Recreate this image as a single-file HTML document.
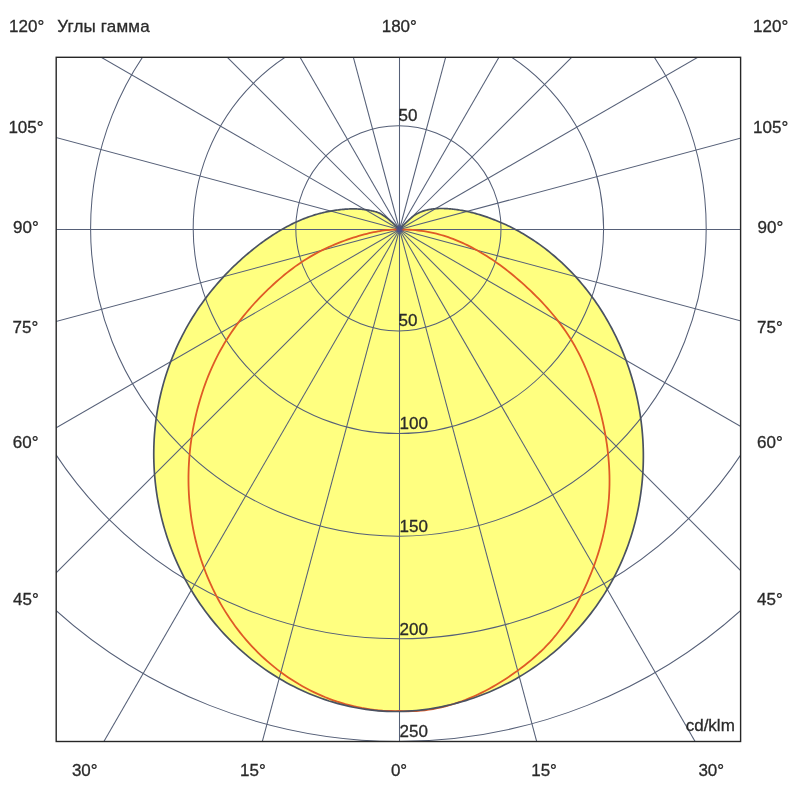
<!DOCTYPE html>
<html><head><meta charset="utf-8"><style>
html,body{margin:0;padding:0;background:#fff;}
svg{display:block;}
.t{position:absolute;left:0;top:0;will-change:transform;}
text{font-family:"Liberation Sans",sans-serif;font-size:17px;fill:#2a2a2a;stroke:#2a2a2a;stroke-width:0.3px;}
</style></head><body>
<svg width="800" height="800" viewBox="0 0 800 800">
<defs><clipPath id="c"><rect x="56.2" y="57.3" width="684.40" height="684.20"/></clipPath></defs>
<g clip-path="url(#c)">
<path d="M399.50,229.50 L399.50,229.50 L399.50,229.50 L399.40,229.40 L398.78,228.75 L397.86,227.80 L396.69,226.64 L395.32,225.32 L393.82,223.92 L392.22,222.47 L390.59,221.04 L388.96,219.67 L387.40,218.41 L385.94,217.29 L384.59,216.31 L383.35,215.46 L382.21,214.73 L381.16,214.11 L380.19,213.58 L379.29,213.13 L378.44,212.75 L377.65,212.43 L376.89,212.15 L376.17,211.92 L375.46,211.71 L374.75,211.52 L374.03,211.34 L373.30,211.16 L372.56,210.98 L371.80,210.81 L371.02,210.65 L370.23,210.49 L369.42,210.34 L368.59,210.19 L367.76,210.05 L366.90,209.91 L366.03,209.78 L365.14,209.66 L364.24,209.55 L363.32,209.45 L362.39,209.35 L361.44,209.26 L360.48,209.19 L359.50,209.12 L358.50,209.06 L357.49,209.01 L356.47,208.97 L355.42,208.95 L354.36,208.93 L353.28,208.92 L352.18,208.93 L351.07,208.94 L349.93,208.97 L348.78,209.01 L347.61,209.06 L346.43,209.13 L345.22,209.21 L343.99,209.30 L342.75,209.40 L341.48,209.52 L340.20,209.66 L338.89,209.81 L337.57,209.97 L336.22,210.15 L334.86,210.35 L333.48,210.57 L332.07,210.80 L330.65,211.05 L329.21,211.32 L327.75,211.61 L326.28,211.92 L324.78,212.25 L323.28,212.60 L321.75,212.97 L320.21,213.37 L318.66,213.79 L317.09,214.23 L315.51,214.69 L313.92,215.18 L312.31,215.69 L310.70,216.23 L309.07,216.79 L307.43,217.38 L305.78,217.99 L304.12,218.63 L302.46,219.30 L300.78,219.99 L299.10,220.72 L297.41,221.47 L295.71,222.24 L294.01,223.05 L292.29,223.88 L290.57,224.74 L288.84,225.64 L287.10,226.56 L285.34,227.51 L283.58,228.49 L281.81,229.50 L280.03,230.54 L278.24,231.62 L276.44,232.72 L274.63,233.86 L272.80,235.03 L270.97,236.24 L269.12,237.47 L267.26,238.75 L265.39,240.05 L263.51,241.40 L261.62,242.78 L259.71,244.19 L257.79,245.65 L255.86,247.14 L253.92,248.67 L251.96,250.24 L249.99,251.84 L248.01,253.49 L246.02,255.18 L244.01,256.92 L242.00,258.69 L239.97,260.51 L237.95,262.37 L235.91,264.27 L233.87,266.22 L231.83,268.21 L229.79,270.24 L227.75,272.32 L225.71,274.44 L223.68,276.61 L221.64,278.82 L219.62,281.08 L217.60,283.38 L215.59,285.73 L213.59,288.12 L211.60,290.55 L209.62,293.03 L207.66,295.56 L205.71,298.12 L203.78,300.74 L201.87,303.39 L199.97,306.09 L198.10,308.83 L196.25,311.62 L194.42,314.45 L192.62,317.32 L190.84,320.23 L189.10,323.18 L187.38,326.17 L185.69,329.20 L184.03,332.28 L182.40,335.39 L180.81,338.54 L179.25,341.72 L177.73,344.95 L176.24,348.21 L174.80,351.50 L173.39,354.83 L172.03,358.20 L170.70,361.60 L169.42,365.03 L168.19,368.49 L166.99,371.98 L165.85,375.50 L164.75,379.05 L163.70,382.63 L162.70,386.23 L161.75,389.86 L160.85,393.52 L160.00,397.20 L159.20,400.90 L158.46,404.63 L157.77,408.37 L157.13,412.14 L156.54,415.93 L156.01,419.73 L155.54,423.56 L155.12,427.40 L154.75,431.26 L154.44,435.13 L154.19,439.01 L154.00,442.91 L153.86,446.82 L153.78,450.75 L153.76,454.68 L153.80,458.62 L153.90,462.57 L154.06,466.52 L154.27,470.48 L154.55,474.45 L154.89,478.42 L155.28,482.39 L155.74,486.37 L156.26,490.34 L156.84,494.32 L157.48,498.29 L158.18,502.26 L158.95,506.22 L159.77,510.18 L160.66,514.14 L161.61,518.08 L162.62,522.02 L163.69,525.95 L164.83,529.87 L166.02,533.77 L167.28,537.67 L168.60,541.54 L169.98,545.41 L171.42,549.25 L172.93,553.08 L174.49,556.89 L176.12,560.68 L177.80,564.45 L179.55,568.19 L181.36,571.92 L183.22,575.61 L185.15,579.29 L187.14,582.93 L189.18,586.55 L191.29,590.13 L193.45,593.69 L195.67,597.21 L197.95,600.71 L200.29,604.16 L202.68,607.58 L205.13,610.97 L207.64,614.32 L210.20,617.63 L212.81,620.90 L215.48,624.13 L218.20,627.32 L220.98,630.46 L223.81,633.56 L226.69,636.62 L229.62,639.62 L232.60,642.59 L235.63,645.50 L238.71,648.36 L241.84,651.17 L245.02,653.93 L248.24,656.64 L251.51,659.30 L254.82,661.90 L258.18,664.44 L261.58,666.93 L265.02,669.36 L268.51,671.73 L272.03,674.04 L275.59,676.29 L279.20,678.48 L282.84,680.60 L286.51,682.67 L290.22,684.66 L293.97,686.60 L297.75,688.47 L301.56,690.27 L305.40,692.00 L309.28,693.67 L313.18,695.26 L317.10,696.79 L321.06,698.24 L325.04,699.62 L329.04,700.94 L333.07,702.17 L337.12,703.34 L341.19,704.43 L345.27,705.44 L349.38,706.38 L353.50,707.25 L357.63,708.03 L361.78,708.74 L365.94,709.37 L370.12,709.93 L374.30,710.40 L378.49,710.80 L382.68,711.11 L386.88,711.34 L391.09,711.50 L395.29,711.50 L399.50,711.50 L403.71,711.37 L407.91,711.15 L412.10,710.86 L416.30,710.49 L420.48,710.06 L424.66,709.55 L428.83,708.97 L432.98,708.32 L437.13,707.59 L441.26,706.80 L445.38,705.94 L449.48,705.00 L453.56,704.00 L457.63,702.93 L461.68,701.79 L465.71,700.58 L469.71,699.30 L473.70,697.96 L477.66,696.55 L481.59,695.07 L485.50,693.53 L489.39,691.92 L493.24,690.25 L497.07,688.51 L500.86,686.71 L504.63,684.85 L508.36,682.92 L512.06,680.94 L515.72,678.89 L519.35,676.78 L522.94,674.61 L526.50,672.38 L530.01,670.10 L533.49,667.76 L536.93,665.36 L540.32,662.90 L543.67,660.39 L546.98,657.82 L550.25,655.20 L553.47,652.53 L556.65,649.81 L559.78,647.03 L562.86,644.20 L565.89,641.33 L568.87,638.40 L571.81,635.43 L574.69,632.41 L577.52,629.35 L580.30,626.24 L583.03,623.08 L585.70,619.88 L588.32,616.64 L590.89,613.36 L593.39,610.04 L595.85,606.68 L598.24,603.28 L600.58,599.84 L602.86,596.36 L605.08,592.85 L607.24,589.31 L609.34,585.73 L611.38,582.12 L613.35,578.48 L615.27,574.81 L617.13,571.10 L618.92,567.37 L620.65,563.62 L622.31,559.83 L623.91,556.02 L625.45,552.19 L626.93,548.34 L628.34,544.47 L629.68,540.57 L630.96,536.66 L632.18,532.74 L633.34,528.80 L634.42,524.84 L635.45,520.87 L636.41,516.90 L637.31,512.91 L638.15,508.92 L638.92,504.92 L639.63,500.91 L640.27,496.90 L640.86,492.89 L641.38,488.88 L641.84,484.87 L642.23,480.86 L642.57,476.85 L642.85,472.85 L643.06,468.85 L643.22,464.86 L643.32,460.87 L643.36,456.90 L643.34,452.94 L643.26,448.98 L643.13,445.04 L642.94,441.12 L642.69,437.21 L642.39,433.31 L642.04,429.43 L641.63,425.57 L641.17,421.73 L640.65,417.91 L640.09,414.11 L639.47,410.33 L638.81,406.58 L638.09,402.85 L637.33,399.14 L636.52,395.47 L635.67,391.81 L634.77,388.19 L633.82,384.59 L632.83,381.03 L631.80,377.49 L630.73,373.99 L629.62,370.52 L628.46,367.08 L627.27,363.67 L626.04,360.29 L624.78,356.95 L623.47,353.65 L622.13,350.38 L620.76,347.15 L619.35,343.95 L617.91,340.79 L616.44,337.66 L614.93,334.57 L613.40,331.52 L611.83,328.51 L610.24,325.54 L608.61,322.60 L606.96,319.71 L605.29,316.85 L603.59,314.04 L601.86,311.26 L600.11,308.52 L598.34,305.83 L596.55,303.17 L594.73,300.56 L592.90,297.99 L591.04,295.45 L589.17,292.96 L587.28,290.51 L585.38,288.11 L583.45,285.74 L581.52,283.42 L579.57,281.13 L577.61,278.89 L575.63,276.69 L573.65,274.54 L571.65,272.42 L569.65,270.35 L567.64,268.32 L565.62,266.33 L563.59,264.38 L561.56,262.47 L559.53,260.61 L557.49,258.78 L555.45,257.00 L553.41,255.26 L551.36,253.55 L549.32,251.89 L547.28,250.27 L545.23,248.69 L543.20,247.14 L541.16,245.64 L539.13,244.18 L537.10,242.75 L535.09,241.36 L533.07,240.01 L531.07,238.70 L529.07,237.42 L527.09,236.19 L525.11,234.98 L523.14,233.82 L521.19,232.69 L519.25,231.59 L517.32,230.53 L515.41,229.50 L513.51,228.51 L511.63,227.54 L509.76,226.61 L507.91,225.71 L506.08,224.85 L504.27,224.01 L502.47,223.20 L500.70,222.42 L498.95,221.67 L497.21,220.95 L495.50,220.26 L493.81,219.59 L492.14,218.94 L490.50,218.33 L488.87,217.73 L487.26,217.17 L485.68,216.62 L484.11,216.10 L482.57,215.60 L481.05,215.12 L479.54,214.66 L478.06,214.23 L476.60,213.81 L475.16,213.42 L473.74,213.04 L472.34,212.68 L470.96,212.34 L469.61,212.02 L468.27,211.72 L466.95,211.43 L465.65,211.16 L464.37,210.90 L463.10,210.66 L461.86,210.43 L460.64,210.22 L459.44,210.03 L458.25,209.84 L457.08,209.67 L455.93,209.52 L454.80,209.37 L453.69,209.24 L452.60,209.12 L451.52,209.01 L450.46,208.91 L449.41,208.83 L448.39,208.75 L447.38,208.68 L446.38,208.63 L445.40,208.58 L444.44,208.54 L443.50,208.52 L442.56,208.50 L441.65,208.49 L440.74,208.48 L439.85,208.49 L438.98,208.51 L438.11,208.54 L437.25,208.57 L436.41,208.62 L435.57,208.67 L434.74,208.74 L433.93,208.81 L433.12,208.90 L432.31,209.00 L431.51,209.10 L430.72,209.22 L429.94,209.35 L429.16,209.50 L428.38,209.65 L427.60,209.82 L426.83,210.00 L426.07,210.20 L425.30,210.41 L424.54,210.63 L423.78,210.87 L423.02,211.13 L422.26,211.40 L421.50,211.69 L420.74,211.99 L419.98,212.32 L419.22,212.66 L418.45,213.02 L417.69,213.41 L416.92,213.82 L416.12,214.27 L415.27,214.79 L414.35,215.41 L413.33,216.14 L412.20,217.02 L410.94,218.06 L409.52,219.30 L407.93,220.77 L406.15,222.49 L404.17,224.49 L401.97,226.81 L399.52,229.47 L399.50,229.50 Z" fill="#ffff80" stroke="none"/>
<g fill="none" stroke="#566078" stroke-width="1.05"><circle cx="398.4" cy="228.4" r="102.60"/><circle cx="398.4" cy="228.4" r="205.20"/><circle cx="398.4" cy="228.4" r="307.80"/><circle cx="398.4" cy="228.4" r="410.40"/><circle cx="398.4" cy="228.4" r="513.00"/><line x1="399.5" y1="229.5" x2="399.50" y2="1229.50"/><line x1="399.5" y1="229.5" x2="658.32" y2="1195.43"/><line x1="399.5" y1="229.5" x2="899.50" y2="1095.53"/><line x1="399.5" y1="229.5" x2="1106.61" y2="936.61"/><line x1="399.5" y1="229.5" x2="1265.53" y2="729.50"/><line x1="399.5" y1="229.5" x2="1365.43" y2="488.32"/><line x1="399.5" y1="229.5" x2="1399.50" y2="229.50"/><line x1="399.5" y1="229.5" x2="1365.43" y2="-29.32"/><line x1="399.5" y1="229.5" x2="1265.53" y2="-270.50"/><line x1="399.5" y1="229.5" x2="1106.61" y2="-477.61"/><line x1="399.5" y1="229.5" x2="899.50" y2="-636.53"/><line x1="399.5" y1="229.5" x2="658.32" y2="-736.43"/><line x1="399.5" y1="229.5" x2="399.50" y2="-770.50"/><line x1="399.5" y1="229.5" x2="140.68" y2="-736.43"/><line x1="399.5" y1="229.5" x2="-100.50" y2="-636.53"/><line x1="399.5" y1="229.5" x2="-307.61" y2="-477.61"/><line x1="399.5" y1="229.5" x2="-466.53" y2="-270.50"/><line x1="399.5" y1="229.5" x2="-566.43" y2="-29.32"/><line x1="399.5" y1="229.5" x2="-600.50" y2="229.50"/><line x1="399.5" y1="229.5" x2="-566.43" y2="488.32"/><line x1="399.5" y1="229.5" x2="-466.53" y2="729.50"/><line x1="399.5" y1="229.5" x2="-307.61" y2="936.61"/><line x1="399.5" y1="229.5" x2="-100.50" y2="1095.53"/><line x1="399.5" y1="229.5" x2="140.68" y2="1195.43"/></g>
<path d="M399.50,229.50 L399.48,229.50 L397.00,229.52 L394.65,229.58 L392.39,229.69 L390.22,229.82 L388.12,230.00 L386.06,230.20 L384.04,230.45 L382.02,230.72 L380.00,231.03 L377.96,231.38 L375.87,231.78 L373.72,232.21 L371.49,232.69 L369.17,233.22 L366.74,233.81 L364.21,234.46 L361.58,235.17 L358.86,235.94 L356.07,236.77 L353.20,237.66 L350.27,238.62 L347.28,239.65 L344.25,240.74 L341.18,241.90 L338.07,243.12 L334.95,244.40 L331.80,245.75 L328.65,247.16 L325.50,248.64 L322.35,250.17 L319.21,251.77 L316.09,253.42 L313.00,255.12 L309.94,256.88 L306.93,258.69 L303.96,260.54 L301.04,262.44 L298.18,264.39 L295.38,266.37 L292.61,268.40 L289.88,270.49 L287.17,272.62 L284.46,274.81 L281.76,277.07 L279.05,279.39 L276.31,281.79 L273.56,284.26 L270.80,286.80 L268.03,289.41 L265.26,292.10 L262.50,294.85 L259.74,297.67 L256.99,300.55 L254.27,303.50 L251.57,306.51 L248.89,309.58 L246.25,312.71 L243.64,315.89 L241.08,319.13 L238.56,322.42 L236.09,325.76 L233.67,329.14 L231.31,332.57 L229.00,336.04 L226.76,339.55 L224.58,343.09 L222.47,346.67 L220.43,350.28 L218.47,353.92 L216.57,357.59 L214.74,361.29 L212.98,365.01 L211.29,368.77 L209.66,372.56 L208.09,376.37 L206.59,380.22 L205.15,384.10 L203.76,388.00 L202.44,391.94 L201.17,395.92 L199.96,399.92 L198.80,403.96 L197.70,408.04 L196.65,412.14 L195.67,416.28 L194.74,420.44 L193.87,424.64 L193.06,428.85 L192.32,433.10 L191.64,437.36 L191.02,441.65 L190.46,445.96 L189.98,450.29 L189.56,454.64 L189.20,459.00 L188.92,463.37 L188.70,467.76 L188.56,472.16 L188.48,476.57 L188.48,480.98 L188.55,485.41 L188.69,489.83 L188.90,494.26 L189.19,498.68 L189.55,503.11 L189.99,507.53 L190.50,511.95 L191.08,516.36 L191.74,520.76 L192.48,525.16 L193.29,529.53 L194.18,533.90 L195.14,538.25 L196.19,542.58 L197.30,546.89 L198.50,551.17 L199.77,555.44 L201.11,559.68 L202.53,563.88 L204.03,568.06 L205.60,572.21 L207.25,576.33 L208.97,580.41 L210.77,584.46 L212.63,588.47 L214.58,592.44 L216.59,596.36 L218.67,600.25 L220.83,604.10 L223.05,607.89 L225.35,611.65 L227.71,615.35 L230.14,619.01 L232.63,622.61 L235.20,626.16 L237.82,629.66 L240.52,633.10 L243.27,636.49 L246.09,639.82 L248.97,643.09 L251.91,646.29 L254.90,649.44 L257.96,652.52 L261.07,655.54 L264.24,658.49 L267.46,661.37 L270.74,664.18 L274.07,666.92 L277.45,669.60 L280.88,672.19 L284.36,674.72 L287.88,677.17 L291.45,679.54 L295.07,681.84 L298.73,684.06 L302.43,686.19 L306.17,688.25 L309.94,690.22 L313.76,692.11 L317.61,693.92 L321.49,695.64 L325.41,697.28 L329.36,698.83 L333.34,700.29 L337.34,701.66 L341.37,702.94 L345.42,704.13 L349.50,705.23 L353.60,706.24 L357.71,707.15 L361.84,707.97 L365.99,708.69 L370.15,709.32 L374.33,709.86 L378.51,710.29 L382.70,710.63 L386.89,710.87 L391.10,711.01 L395.30,711.06 L399.50,711.00 L403.70,711.20 L407.91,711.26 L412.11,711.19 L416.31,711.00 L420.51,710.68 L424.69,710.24 L428.87,709.69 L433.03,709.01 L437.18,708.22 L441.30,707.32 L445.41,706.32 L449.50,705.21 L453.56,703.99 L457.60,702.68 L461.61,701.27 L465.59,699.77 L469.54,698.17 L473.46,696.49 L477.35,694.73 L481.21,692.88 L485.03,690.96 L488.81,688.96 L492.56,686.88 L496.26,684.74 L499.94,682.53 L503.57,680.26 L507.16,677.93 L510.71,675.54 L514.22,673.10 L517.69,670.61 L521.12,668.06 L524.51,665.46 L527.85,662.81 L531.14,660.09 L534.39,657.30 L537.57,654.45 L540.71,651.52 L543.78,648.52 L546.79,645.44 L549.74,642.28 L552.62,639.03 L555.42,635.70 L558.16,632.28 L560.82,628.78 L563.41,625.21 L565.93,621.58 L568.37,617.88 L570.74,614.12 L573.04,610.31 L575.27,606.44 L577.43,602.54 L579.52,598.59 L581.54,594.62 L583.49,590.61 L585.38,586.57 L587.20,582.51 L588.96,578.44 L590.65,574.35 L592.28,570.23 L593.84,566.10 L595.33,561.95 L596.75,557.78 L598.11,553.60 L599.39,549.39 L600.60,545.17 L601.74,540.93 L602.81,536.67 L603.80,532.39 L604.72,528.09 L605.56,523.78 L606.32,519.45 L607.01,515.11 L607.61,510.75 L608.14,506.37 L608.58,501.98 L608.94,497.57 L609.21,493.15 L609.40,488.71 L609.51,484.26 L609.53,479.80 L609.47,475.34 L609.33,470.88 L609.10,466.41 L608.80,461.95 L608.43,457.50 L607.97,453.06 L607.45,448.63 L606.85,444.22 L606.19,439.83 L605.46,435.46 L604.67,431.12 L603.81,426.80 L602.90,422.52 L601.92,418.26 L600.90,414.04 L599.82,409.87 L598.69,405.73 L597.51,401.63 L596.29,397.58 L595.03,393.57 L593.73,389.61 L592.40,385.71 L591.03,381.85 L589.62,378.03 L588.16,374.26 L586.66,370.53 L585.10,366.84 L583.49,363.18 L581.81,359.54 L580.07,355.94 L578.26,352.36 L576.37,348.80 L574.41,345.27 L572.35,341.75 L570.21,338.25 L567.97,334.77 L565.64,331.31 L563.23,327.88 L560.74,324.48 L558.18,321.11 L555.56,317.79 L552.87,314.52 L550.14,311.29 L547.37,308.12 L544.56,305.01 L541.72,301.97 L538.87,298.99 L536.00,296.07 L533.13,293.24 L530.26,290.47 L527.40,287.79 L524.56,285.18 L521.75,282.65 L518.95,280.20 L516.18,277.83 L513.43,275.53 L510.70,273.30 L507.99,271.15 L505.31,269.06 L502.64,267.04 L499.99,265.09 L497.37,263.20 L494.76,261.38 L492.18,259.61 L489.61,257.91 L487.06,256.27 L484.53,254.69 L482.02,253.16 L479.52,251.69 L477.04,250.28 L474.58,248.92 L472.13,247.61 L469.69,246.35 L467.27,245.14 L464.85,243.99 L462.46,242.88 L460.07,241.82 L457.69,240.81 L455.32,239.85 L452.96,238.93 L450.61,238.05 L448.26,237.22 L445.92,236.44 L443.58,235.70 L441.23,234.99 L438.86,234.33 L436.46,233.71 L434.04,233.13 L431.57,232.59 L429.05,232.09 L426.48,231.62 L423.84,231.20 L421.13,230.82 L418.34,230.49 L415.46,230.20 L412.49,229.95 L409.41,229.76 L406.22,229.62 L402.92,229.53 L399.50,229.50 L399.50,229.50 Z" fill="none" stroke="#df5a26" stroke-width="1.8" stroke-linejoin="round"/>
<path d="M399.50,229.50 L399.50,229.50 L399.50,229.50 L399.40,229.40 L398.78,228.75 L397.86,227.80 L396.69,226.64 L395.32,225.32 L393.82,223.92 L392.22,222.47 L390.59,221.04 L388.96,219.67 L387.40,218.41 L385.94,217.29 L384.59,216.31 L383.35,215.46 L382.21,214.73 L381.16,214.11 L380.19,213.58 L379.29,213.13 L378.44,212.75 L377.65,212.43 L376.89,212.15 L376.17,211.92 L375.46,211.71 L374.75,211.52 L374.03,211.34 L373.30,211.16 L372.56,210.98 L371.80,210.81 L371.02,210.65 L370.23,210.49 L369.42,210.34 L368.59,210.19 L367.76,210.05 L366.90,209.91 L366.03,209.78 L365.14,209.66 L364.24,209.55 L363.32,209.45 L362.39,209.35 L361.44,209.26 L360.48,209.19 L359.50,209.12 L358.50,209.06 L357.49,209.01 L356.47,208.97 L355.42,208.95 L354.36,208.93 L353.28,208.92 L352.18,208.93 L351.07,208.94 L349.93,208.97 L348.78,209.01 L347.61,209.06 L346.43,209.13 L345.22,209.21 L343.99,209.30 L342.75,209.40 L341.48,209.52 L340.20,209.66 L338.89,209.81 L337.57,209.97 L336.22,210.15 L334.86,210.35 L333.48,210.57 L332.07,210.80 L330.65,211.05 L329.21,211.32 L327.75,211.61 L326.28,211.92 L324.78,212.25 L323.28,212.60 L321.75,212.97 L320.21,213.37 L318.66,213.79 L317.09,214.23 L315.51,214.69 L313.92,215.18 L312.31,215.69 L310.70,216.23 L309.07,216.79 L307.43,217.38 L305.78,217.99 L304.12,218.63 L302.46,219.30 L300.78,219.99 L299.10,220.72 L297.41,221.47 L295.71,222.24 L294.01,223.05 L292.29,223.88 L290.57,224.74 L288.84,225.64 L287.10,226.56 L285.34,227.51 L283.58,228.49 L281.81,229.50 L280.03,230.54 L278.24,231.62 L276.44,232.72 L274.63,233.86 L272.80,235.03 L270.97,236.24 L269.12,237.47 L267.26,238.75 L265.39,240.05 L263.51,241.40 L261.62,242.78 L259.71,244.19 L257.79,245.65 L255.86,247.14 L253.92,248.67 L251.96,250.24 L249.99,251.84 L248.01,253.49 L246.02,255.18 L244.01,256.92 L242.00,258.69 L239.97,260.51 L237.95,262.37 L235.91,264.27 L233.87,266.22 L231.83,268.21 L229.79,270.24 L227.75,272.32 L225.71,274.44 L223.68,276.61 L221.64,278.82 L219.62,281.08 L217.60,283.38 L215.59,285.73 L213.59,288.12 L211.60,290.55 L209.62,293.03 L207.66,295.56 L205.71,298.12 L203.78,300.74 L201.87,303.39 L199.97,306.09 L198.10,308.83 L196.25,311.62 L194.42,314.45 L192.62,317.32 L190.84,320.23 L189.10,323.18 L187.38,326.17 L185.69,329.20 L184.03,332.28 L182.40,335.39 L180.81,338.54 L179.25,341.72 L177.73,344.95 L176.24,348.21 L174.80,351.50 L173.39,354.83 L172.03,358.20 L170.70,361.60 L169.42,365.03 L168.19,368.49 L166.99,371.98 L165.85,375.50 L164.75,379.05 L163.70,382.63 L162.70,386.23 L161.75,389.86 L160.85,393.52 L160.00,397.20 L159.20,400.90 L158.46,404.63 L157.77,408.37 L157.13,412.14 L156.54,415.93 L156.01,419.73 L155.54,423.56 L155.12,427.40 L154.75,431.26 L154.44,435.13 L154.19,439.01 L154.00,442.91 L153.86,446.82 L153.78,450.75 L153.76,454.68 L153.80,458.62 L153.90,462.57 L154.06,466.52 L154.27,470.48 L154.55,474.45 L154.89,478.42 L155.28,482.39 L155.74,486.37 L156.26,490.34 L156.84,494.32 L157.48,498.29 L158.18,502.26 L158.95,506.22 L159.77,510.18 L160.66,514.14 L161.61,518.08 L162.62,522.02 L163.69,525.95 L164.83,529.87 L166.02,533.77 L167.28,537.67 L168.60,541.54 L169.98,545.41 L171.42,549.25 L172.93,553.08 L174.49,556.89 L176.12,560.68 L177.80,564.45 L179.55,568.19 L181.36,571.92 L183.22,575.61 L185.15,579.29 L187.14,582.93 L189.18,586.55 L191.29,590.13 L193.45,593.69 L195.67,597.21 L197.95,600.71 L200.29,604.16 L202.68,607.58 L205.13,610.97 L207.64,614.32 L210.20,617.63 L212.81,620.90 L215.48,624.13 L218.20,627.32 L220.98,630.46 L223.81,633.56 L226.69,636.62 L229.62,639.62 L232.60,642.59 L235.63,645.50 L238.71,648.36 L241.84,651.17 L245.02,653.93 L248.24,656.64 L251.51,659.30 L254.82,661.90 L258.18,664.44 L261.58,666.93 L265.02,669.36 L268.51,671.73 L272.03,674.04 L275.59,676.29 L279.20,678.48 L282.84,680.60 L286.51,682.67 L290.22,684.66 L293.97,686.60 L297.75,688.47 L301.56,690.27 L305.40,692.00 L309.28,693.67 L313.18,695.26 L317.10,696.79 L321.06,698.24 L325.04,699.62 L329.04,700.94 L333.07,702.17 L337.12,703.34 L341.19,704.43 L345.27,705.44 L349.38,706.38 L353.50,707.25 L357.63,708.03 L361.78,708.74 L365.94,709.37 L370.12,709.93 L374.30,710.40 L378.49,710.80 L382.68,711.11 L386.88,711.34 L391.09,711.50 L395.29,711.50 L399.50,711.50 L403.71,711.37 L407.91,711.15 L412.10,710.86 L416.30,710.49 L420.48,710.06 L424.66,709.55 L428.83,708.97 L432.98,708.32 L437.13,707.59 L441.26,706.80 L445.38,705.94 L449.48,705.00 L453.56,704.00 L457.63,702.93 L461.68,701.79 L465.71,700.58 L469.71,699.30 L473.70,697.96 L477.66,696.55 L481.59,695.07 L485.50,693.53 L489.39,691.92 L493.24,690.25 L497.07,688.51 L500.86,686.71 L504.63,684.85 L508.36,682.92 L512.06,680.94 L515.72,678.89 L519.35,676.78 L522.94,674.61 L526.50,672.38 L530.01,670.10 L533.49,667.76 L536.93,665.36 L540.32,662.90 L543.67,660.39 L546.98,657.82 L550.25,655.20 L553.47,652.53 L556.65,649.81 L559.78,647.03 L562.86,644.20 L565.89,641.33 L568.87,638.40 L571.81,635.43 L574.69,632.41 L577.52,629.35 L580.30,626.24 L583.03,623.08 L585.70,619.88 L588.32,616.64 L590.89,613.36 L593.39,610.04 L595.85,606.68 L598.24,603.28 L600.58,599.84 L602.86,596.36 L605.08,592.85 L607.24,589.31 L609.34,585.73 L611.38,582.12 L613.35,578.48 L615.27,574.81 L617.13,571.10 L618.92,567.37 L620.65,563.62 L622.31,559.83 L623.91,556.02 L625.45,552.19 L626.93,548.34 L628.34,544.47 L629.68,540.57 L630.96,536.66 L632.18,532.74 L633.34,528.80 L634.42,524.84 L635.45,520.87 L636.41,516.90 L637.31,512.91 L638.15,508.92 L638.92,504.92 L639.63,500.91 L640.27,496.90 L640.86,492.89 L641.38,488.88 L641.84,484.87 L642.23,480.86 L642.57,476.85 L642.85,472.85 L643.06,468.85 L643.22,464.86 L643.32,460.87 L643.36,456.90 L643.34,452.94 L643.26,448.98 L643.13,445.04 L642.94,441.12 L642.69,437.21 L642.39,433.31 L642.04,429.43 L641.63,425.57 L641.17,421.73 L640.65,417.91 L640.09,414.11 L639.47,410.33 L638.81,406.58 L638.09,402.85 L637.33,399.14 L636.52,395.47 L635.67,391.81 L634.77,388.19 L633.82,384.59 L632.83,381.03 L631.80,377.49 L630.73,373.99 L629.62,370.52 L628.46,367.08 L627.27,363.67 L626.04,360.29 L624.78,356.95 L623.47,353.65 L622.13,350.38 L620.76,347.15 L619.35,343.95 L617.91,340.79 L616.44,337.66 L614.93,334.57 L613.40,331.52 L611.83,328.51 L610.24,325.54 L608.61,322.60 L606.96,319.71 L605.29,316.85 L603.59,314.04 L601.86,311.26 L600.11,308.52 L598.34,305.83 L596.55,303.17 L594.73,300.56 L592.90,297.99 L591.04,295.45 L589.17,292.96 L587.28,290.51 L585.38,288.11 L583.45,285.74 L581.52,283.42 L579.57,281.13 L577.61,278.89 L575.63,276.69 L573.65,274.54 L571.65,272.42 L569.65,270.35 L567.64,268.32 L565.62,266.33 L563.59,264.38 L561.56,262.47 L559.53,260.61 L557.49,258.78 L555.45,257.00 L553.41,255.26 L551.36,253.55 L549.32,251.89 L547.28,250.27 L545.23,248.69 L543.20,247.14 L541.16,245.64 L539.13,244.18 L537.10,242.75 L535.09,241.36 L533.07,240.01 L531.07,238.70 L529.07,237.42 L527.09,236.19 L525.11,234.98 L523.14,233.82 L521.19,232.69 L519.25,231.59 L517.32,230.53 L515.41,229.50 L513.51,228.51 L511.63,227.54 L509.76,226.61 L507.91,225.71 L506.08,224.85 L504.27,224.01 L502.47,223.20 L500.70,222.42 L498.95,221.67 L497.21,220.95 L495.50,220.26 L493.81,219.59 L492.14,218.94 L490.50,218.33 L488.87,217.73 L487.26,217.17 L485.68,216.62 L484.11,216.10 L482.57,215.60 L481.05,215.12 L479.54,214.66 L478.06,214.23 L476.60,213.81 L475.16,213.42 L473.74,213.04 L472.34,212.68 L470.96,212.34 L469.61,212.02 L468.27,211.72 L466.95,211.43 L465.65,211.16 L464.37,210.90 L463.10,210.66 L461.86,210.43 L460.64,210.22 L459.44,210.03 L458.25,209.84 L457.08,209.67 L455.93,209.52 L454.80,209.37 L453.69,209.24 L452.60,209.12 L451.52,209.01 L450.46,208.91 L449.41,208.83 L448.39,208.75 L447.38,208.68 L446.38,208.63 L445.40,208.58 L444.44,208.54 L443.50,208.52 L442.56,208.50 L441.65,208.49 L440.74,208.48 L439.85,208.49 L438.98,208.51 L438.11,208.54 L437.25,208.57 L436.41,208.62 L435.57,208.67 L434.74,208.74 L433.93,208.81 L433.12,208.90 L432.31,209.00 L431.51,209.10 L430.72,209.22 L429.94,209.35 L429.16,209.50 L428.38,209.65 L427.60,209.82 L426.83,210.00 L426.07,210.20 L425.30,210.41 L424.54,210.63 L423.78,210.87 L423.02,211.13 L422.26,211.40 L421.50,211.69 L420.74,211.99 L419.98,212.32 L419.22,212.66 L418.45,213.02 L417.69,213.41 L416.92,213.82 L416.12,214.27 L415.27,214.79 L414.35,215.41 L413.33,216.14 L412.20,217.02 L410.94,218.06 L409.52,219.30 L407.93,220.77 L406.15,222.49 L404.17,224.49 L401.97,226.81 L399.52,229.47 L399.50,229.50 Z" fill="none" stroke="#4a5262" stroke-width="1.7" stroke-linejoin="round"/>
<circle cx="399.5" cy="229.3" r="3.2" fill="#48508a" opacity="0.85"/>
</g>
<rect x="56.2" y="57.3" width="684.40" height="684.20" fill="none" stroke="#262626" stroke-width="1.4"/>
</svg>
<svg class="t" width="800" height="800" viewBox="0 0 800 800"><text x="9.1" y="32.1">120°</text><text x="57.3" y="32.3" textLength="92.3" lengthAdjust="spacing">Углы гамма</text><text x="381.7" y="32.2">180°</text><text x="753.1" y="32.1">120°</text><text x="8.4" y="132.9">105°</text><text x="13.0" y="233.1">90°</text><text x="12.5" y="333.4">75°</text><text x="12.8" y="447.7">60°</text><text x="13.0" y="605.45">45°</text><text x="753.1" y="132.9">105°</text><text x="757.5" y="233.1">90°</text><text x="757.0" y="333.4">75°</text><text x="757.0" y="447.7">60°</text><text x="757.0" y="605.45">45°</text><text x="71.9" y="776.45">30°</text><text x="240.0" y="776.45">15°</text><text x="390.9" y="776.45">0°</text><text x="531.2" y="776.45">15°</text><text x="698.4" y="776.45">30°</text><text x="398.6" y="121.4">50</text><text x="398.5" y="325.6">50</text><text x="399.5" y="428.8">100</text><text x="399.6" y="532.0">150</text><text x="399.5" y="634.6">200</text><text x="399.5" y="736.5">250</text><text x="685.7" y="731.0">cd/klm</text></svg>
</body></html>
